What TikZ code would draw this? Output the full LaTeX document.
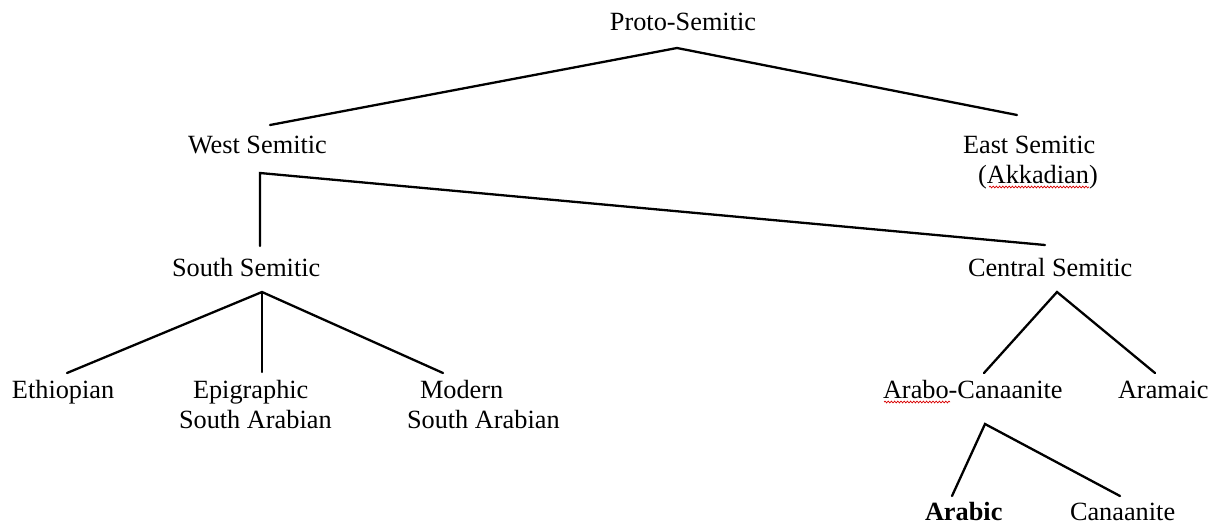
\documentclass[tikz,border=0pt]{standalone}
\usepackage{fontspec}
\setmainfont{Liberation Serif}
\usetikzlibrary{decorations.pathmorphing}
\begin{document}
\begin{tikzpicture}[x=1pt,y=-1pt,
  lbl/.style={inner sep=0pt,outer sep=0pt,font=\fontsize{26.3}{30}\selectfont},
  edge/.style={line width=2.3pt,line cap=round,line join=miter},
  squig/.style={draw=red!85!black,line width=0.7pt,decorate,decoration={snake,segment length=3.2pt,amplitude=0.9pt}}]
\useasboundingbox (0,0) rectangle (1219,525);
% labels
\node[lbl,anchor=base] (proto) at (683,30) {Proto-Semitic};
\node[lbl,anchor=base west] (west) at (188,153) {West Semitic};
\node[lbl,anchor=base west] (east) at (963,153) {East Semitic};
\node[lbl,anchor=base west] (akk) at (978,183) {(Akkadian)};
\node[lbl,anchor=base west] (south) at (172,276) {South Semitic};
\node[lbl,anchor=base west] (central) at (968,276) {Central Semitic};
\node[lbl,anchor=base west] (eth) at (12,398) {Ethiopian};
\node[lbl,anchor=base west] (epi) at (193,398) {Epigraphic};
\node[lbl,anchor=base west] (epi2) at (179,428) {South Arabian};
\node[lbl,anchor=base west] (mod) at (420,398) {Modern};
\node[lbl,anchor=base west] (mod2) at (407,428) {South Arabian};
\node[lbl,anchor=base west] (arcan) at (883,398) {Arabo-Canaanite};
\node[lbl,anchor=base west] (aram) at (1118,398) {Aramaic};
\node[lbl,anchor=base west,font=\fontsize{26.3}{30}\selectfont\bfseries] (arabic) at (925,520) {Arabic};
\node[lbl,anchor=base west] (canaan) at (1070,520) {Canaanite};
% connector points
\coordinate (vP) at (677,48);
\coordinate (eW) at (270,125);
\coordinate (eE) at (1017,115);
\coordinate (vW) at (260,173);
\coordinate (eS) at (260,246);
\coordinate (eC) at (1045,245);
\coordinate (vS) at (262,292);
\coordinate (eEth) at (67,373);
\coordinate (eEpi) at (262,372);
\coordinate (eMod) at (443,373);
\coordinate (vC) at (1057,292);
\coordinate (eAC) at (984,373);
\coordinate (eAr) at (1155,373);
\coordinate (vA) at (985,424);
\coordinate (eAb) at (952,496);
\coordinate (eCa) at (1120,496);
% connectors
\draw[edge] (eW) -- (vP) -- (eE);
\draw[edge] (eS) -- (vW) -- (eC);
\draw[edge] (eEth) -- (vS) -- (eMod);
\draw[edge] (vS) -- (eEpi);
\draw[edge] (eAC) -- (vC) -- (eAr);
\draw[edge] (eAb) -- (vA) -- (eCa);
% spell-check squiggles
\coordinate (s1a) at (989,187);
\coordinate (s1b) at (1089,187);
\coordinate (s2a) at (884,402);
\coordinate (s2b) at (950,402);
\draw[squig] (s1a) -- (s1b);
\draw[squig] (s2a) -- (s2b);
\end{tikzpicture}
\end{document}
